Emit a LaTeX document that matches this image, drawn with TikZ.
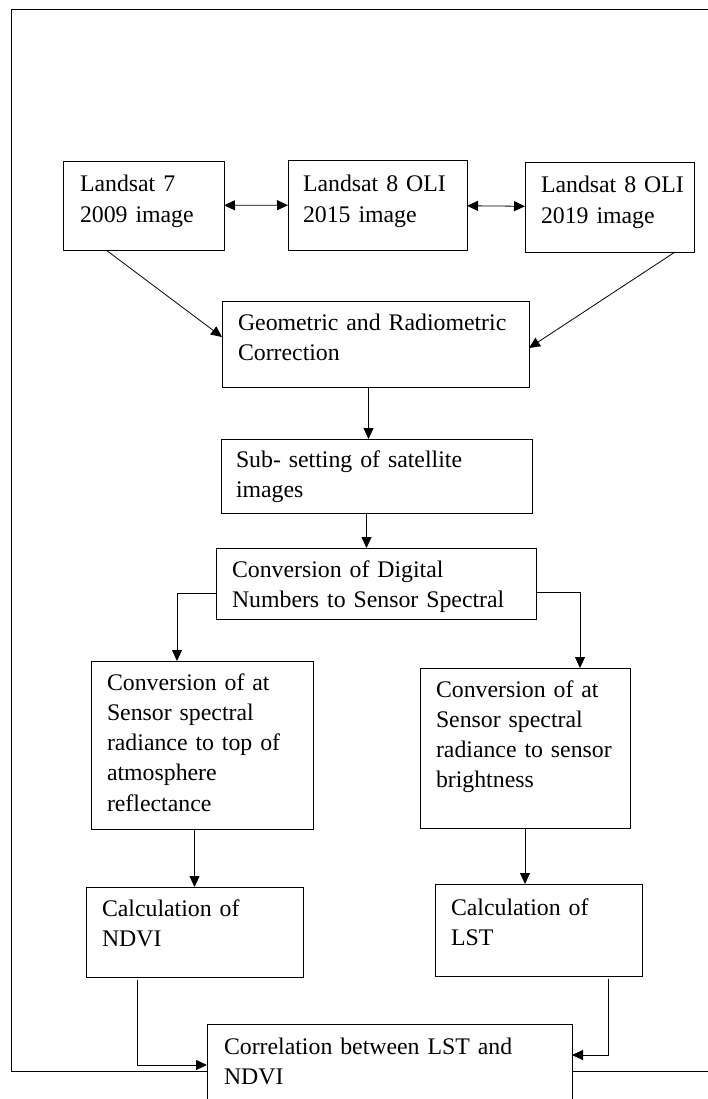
\documentclass[tikz,border=0pt]{standalone}
\usepackage{fontspec}
\setmainfont{Liberation Serif}
\usetikzlibrary{positioning, arrows.meta}

\tikzset{
	box/.style = {draw = black, fill = white, anchor = north west, align = left, inner ysep = 0pt, outer sep = 0pt, line width = 0.8pt, font = \fontsize{23.8}{30.3}\selectfont},
	link/.style = {draw = black, line width = 0.8pt, -{Triangle[length = 11pt, width = 10pt]}},
	both/.style = {link, {Triangle[length = 11pt, width = 10pt]}-{Triangle[length = 11pt, width = 10pt]}}
}

\begin{document}
\begin{tikzpicture}[x = 1pt, y = -1pt]
		\useasboundingbox (0, 0) rectangle (707, 1099);
		\draw[line width = 0.8pt] (11, 9) rectangle (730, 1071);
		\node[box, inner xsep = 17pt, text width = 127pt, text height = 31pt, text depth = 58pt] (landsatA) at (63, 161) {Landsat 7\\2009 image};
		\node[box, inner xsep = 15pt, text width = 149pt, text height = 32pt, text depth = 58pt] (landsatB) at (288, 160) {Landsat 8 OLI\\2015 image};
		\node[box, inner xsep = 16pt, text width = 137pt, text height = 31pt, text depth = 59pt] (landsatC) at (525, 162) {Landsat~8~OLI\\2019 image};
		\node[box, inner xsep = 16pt, text width = 275pt, text height = 29pt, text depth = 57pt] (correct) at (222, 301) {Geometric and Radiometric\\Correction};
		\node[box, inner xsep = 15pt, text width = 281pt, text height = 28pt, text depth = 46pt] (subset) at (221, 439) {Sub- setting of satellite\\images};
		\node[box, inner xsep = 16pt, text width = 288pt, text height = 29pt, text depth = 42pt] (digital) at (216, 548) {Conversion of Digital\\Numbers to Sensor Spectral};
		\node[box, inner xsep = 16pt, text width = 190pt, text height = 29pt, text depth = 139pt] (reflect) at (91, 661) {Conversion of at\\Sensor spectral\\radiance to top of\\atmosphere\\reflectance};
		\node[box, inner xsep = 16pt, text width = 178pt, text height = 29pt, text depth = 131pt] (bright) at (420, 668) {Conversion of at\\Sensor spectral\\radiance~to~sensor\\brightness};
		\node[box, inner xsep = 16pt, text width = 185pt, text height = 29pt, text depth = 61pt] (ndvi) at (86, 887) {Calculation of\\NDVI};
		\node[box, inner xsep = 16pt, text width = 175pt, text height = 31pt, text depth = 61pt] (lst) at (435, 884) {Calculation of\\LST};
		\node[box, inner xsep = 17pt, text width = 331pt, text height = 30pt, text depth = 110pt] (correl) at (207, 1024) {Correlation between LST and\\NDVI};
		\draw[both] (landsatA) -- (landsatB);
		\draw[both] (landsatB) -- (landsatC);
		\draw[link] ([xshift = 43pt]landsatA.south west) -- ([yshift = 7pt]correct.west);
		\draw[link] ([xshift = 150pt]landsatC.south west) -- ([yshift = -4pt]correct.east);
		\draw[link] ([xshift = -7pt]correct.south) -- ([xshift = -7pt]correct.south |- subset.north);
		\draw[link] ([xshift = -10pt]subset.south) -- ([xshift = -10pt]subset.south |- digital.north);
		\draw[link] ([yshift = -10pt]digital.west) -| ([xshift = -25pt]reflect.north);
		\draw[link] ([yshift = -9pt]digital.east) -| ([xshift = 55pt]bright.north);
		\draw[link] (ndvi.north |- reflect.south) -- (ndvi.north);
		\draw[link] (bright.south) -- (bright.south |- lst.north);
		\draw[link] ([xshift = -57pt, yshift = -3pt]ndvi.south) |- ([yshift = -41pt]correl.north west);
		\draw[link] ([xshift = 70pt, yshift = -3pt]lst.south) |- ([yshift = -31pt]correl.north east);
\end{tikzpicture}
\end{document}
